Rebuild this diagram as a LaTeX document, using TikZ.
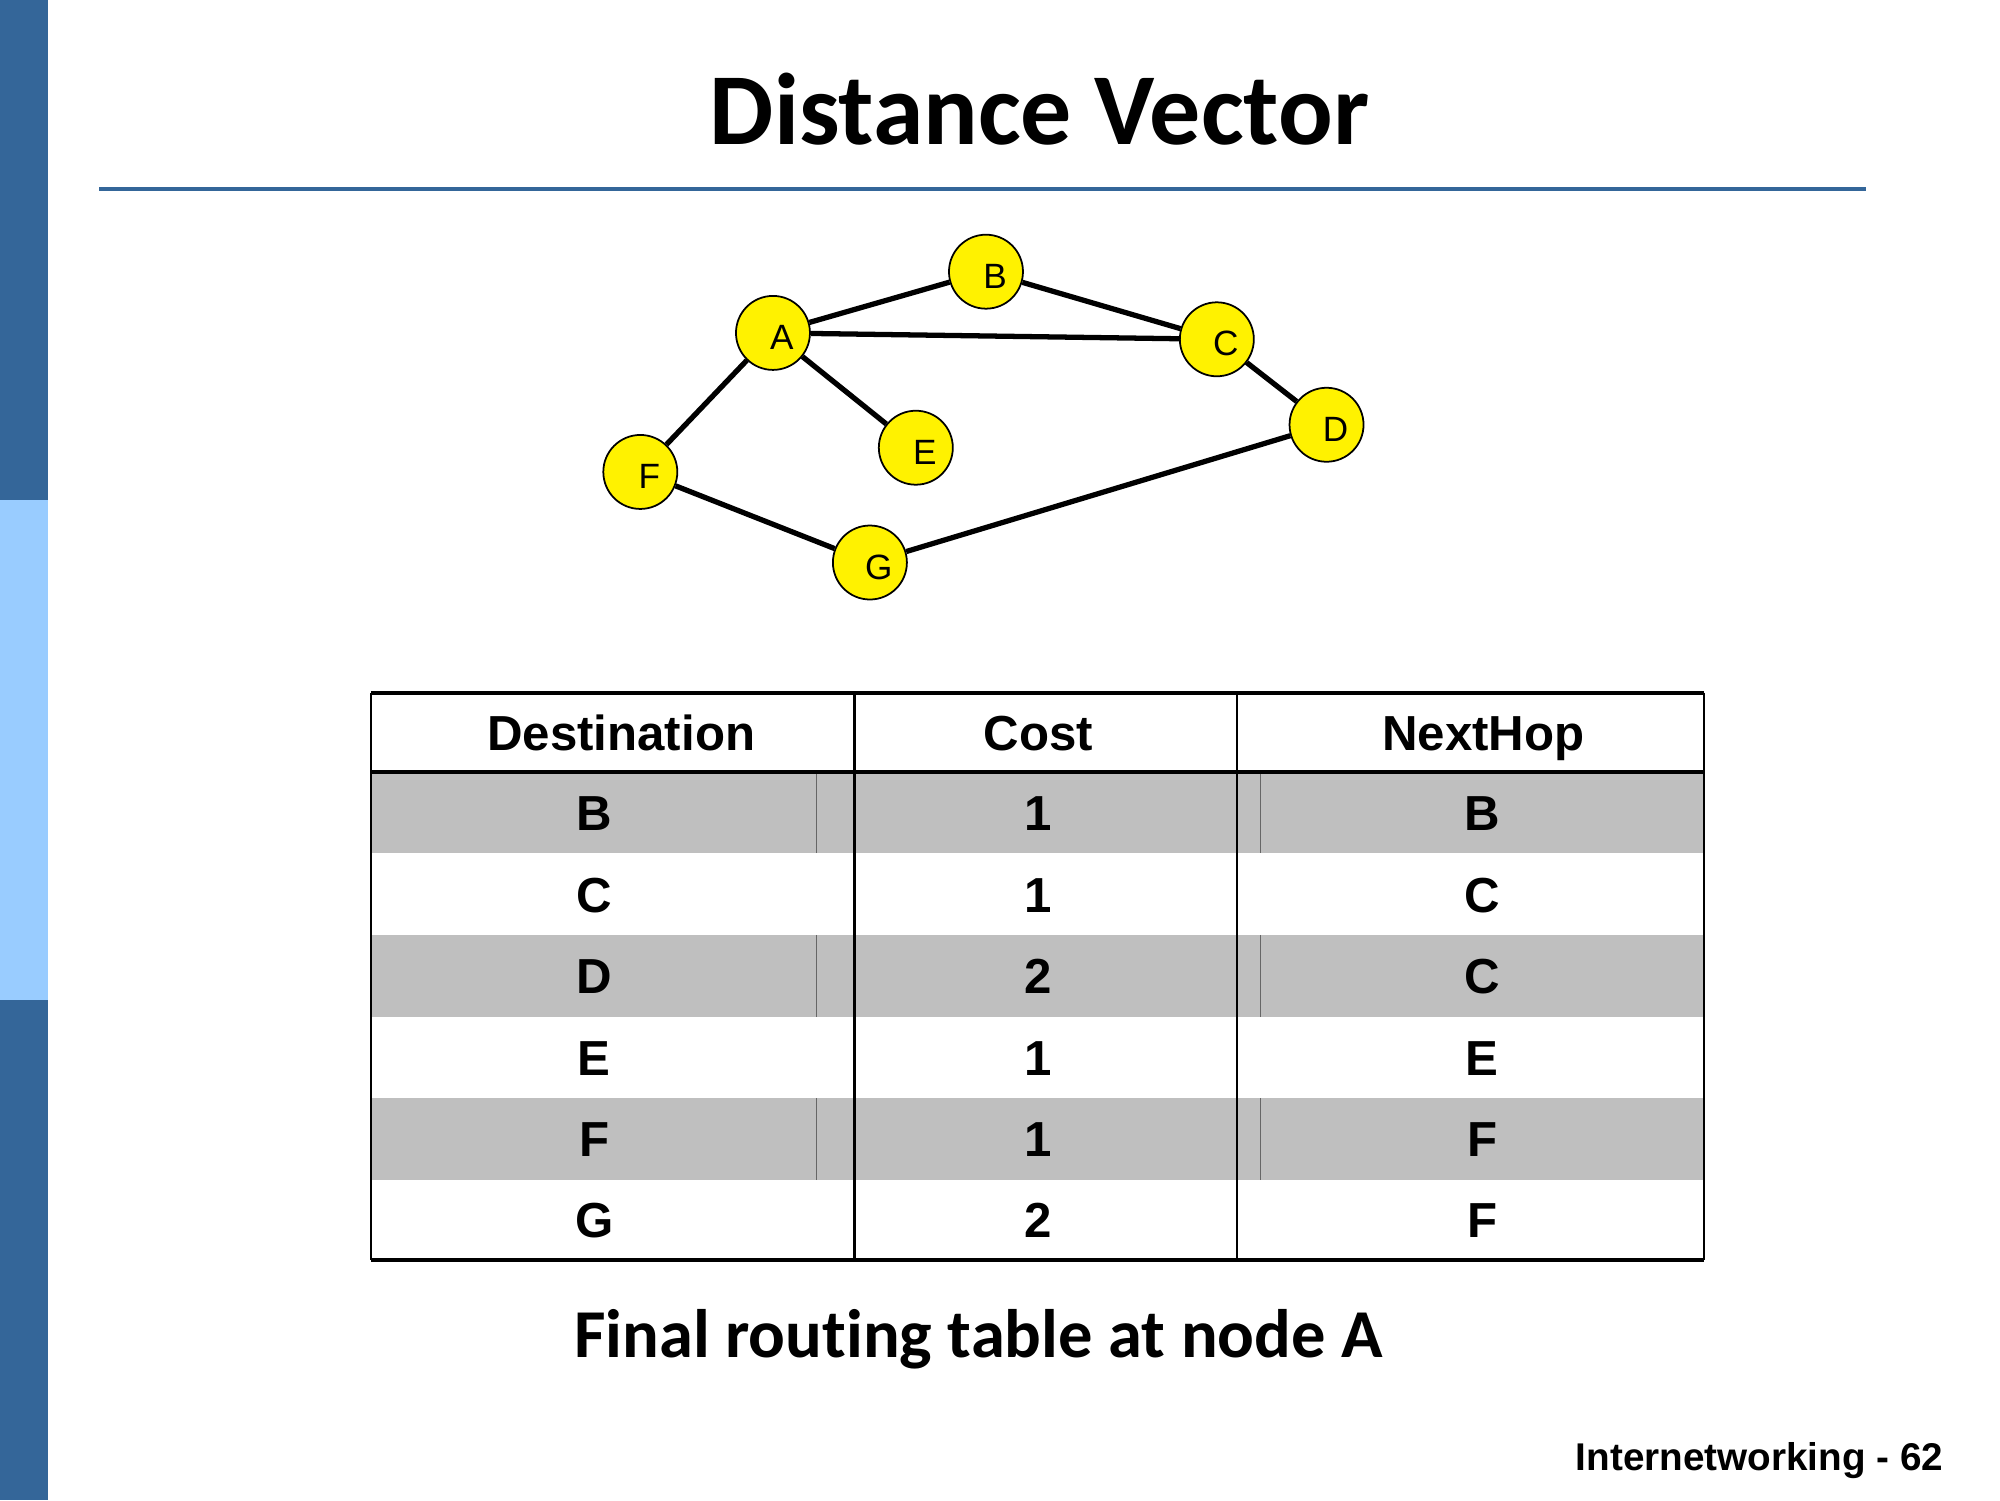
\documentclass[tikz,border=0pt]{standalone}
\usepackage{fontspec}
\setmainfont{Carlito}[Ligatures=NoCommon]
\newfontfamily\arialfont{Liberation Sans}
\usetikzlibrary{calc}
\definecolor{slideblue}{RGB}{52,102,153}
\definecolor{lightbar}{RGB}{153,204,255}
\definecolor{rowgray}{RGB}{191,191,191}
\newcommand{\hopsize}{.74cm}
\tikzset{
  hop/.style={draw, circle, fill=yellow, line width=.5pt, minimum size=\hopsize, inner sep=0pt,
    text height=.33cm, text depth=0pt, execute at begin node={\hspace{.18cm}},
    font=\arialfont\fontsize{10}{11}\selectfont},
  link/.style={line width=1.5pt},
  cell/.style={anchor=base, inner sep=0pt, font=\arialfont\bfseries\fontsize{14}{16}\selectfont},
  tablerule/.style={line width=1.1pt},
  colrule/.style={line width=.7pt}
}

\begin{document}
\begin{tikzpicture}[x=0.012755cm, y=-0.012755cm]
    \useasboundingbox (0,0) rectangle (1568,1176);
    % side bar and title
        \fill[slideblue] (0,0) rectangle (38,392);
        \fill[lightbar] (0,392) rectangle (38,784);
        \fill[slideblue] (0,784) rectangle (38,1176);
        \node (title) at (815,113) [anchor=base, font=\bfseries\fontsize{29}{34}\selectfont] {Distance Vector};
        \draw[slideblue, line width=1.1pt] (78,148) -- (1463,148);

    % network of seven routers
        \node (A) at (606,261) [hop] {A};
        \node (B) at (773,213) [hop] {B};
        \node (C) at (954,266) [hop] {C};
        \node (D) at (1040,333) [hop] {D};
        \node (E) at (718,351) [hop] {E};
        \node (F) at (502,370) [hop] {F};
        \node (G) at (682,441) [hop] {G};

        \draw[link]
        (A) to (B) to (C) to (D) to (G) to (F) to (A)
        (A) to (C)
        (A) to (E);

    % routing table at A
        \fill[rowgray] (291,605) rectangle (1336,669);
        \fill[rowgray] (291,733) rectangle (1336,797);
        \fill[rowgray] (291,861) rectangle (1336,925);
        \draw[gray!80!black, line width=.3pt]
        (640,605) -- (640,669) (988,605) -- (988,669)
        (640,733) -- (640,797) (988,733) -- (988,797)
        (640,861) -- (640,925) (988,861) -- (988,925);
        \draw[colrule] (291,543) -- (291,988) (670,543) -- (670,988)
        (970,543) -- (970,988) (1336,543) -- (1336,988);
        \draw[tablerule] (291,543) -- (1336,543) (291,605) -- (1336,605)
        (291,988) -- (1336,988);

        \node (dest) at (487,588) [cell] {Destination};
        \node (cost) at (814,588) [cell] {Cost};
        \node (next) at (1163,588) [cell] {NextHop};

        \node (dB) at (466,651) [cell] {B};
        \node (cB) at (814,651) [cell] {1};
        \node (nB) at (1162,651) [cell] {B};
        \node (dC) at (466,715) [cell] {C};
        \node (cC) at (814,715) [cell] {1};
        \node (nC) at (1162,715) [cell] {C};
        \node (dD) at (466,779) [cell] {D};
        \node (cD) at (814,779) [cell] {2};
        \node (nD) at (1162,779) [cell] {C};
        \node (dE) at (466,843) [cell] {E};
        \node (cE) at (814,843) [cell] {1};
        \node (nE) at (1162,843) [cell] {E};
        \node (dF) at (466,907) [cell] {F};
        \node (cF) at (814,907) [cell] {1};
        \node (nF) at (1162,907) [cell] {F};
        \node (dG) at (466,970) [cell] {G};
        \node (cG) at (814,970) [cell] {2};
        \node (nG) at (1162,970) [cell] {F};

        \node (caption) at (767,1064) [anchor=base, font=\bfseries\fontsize{19.5}{23}\selectfont] {Final routing table at node A};
        \node (footer) at (1524,1153) [anchor=base east, inner sep=0pt, font=\arialfont\bfseries\fontsize{11}{13}\selectfont] {Internetworking - 62};
\end{tikzpicture}
\end{document}
